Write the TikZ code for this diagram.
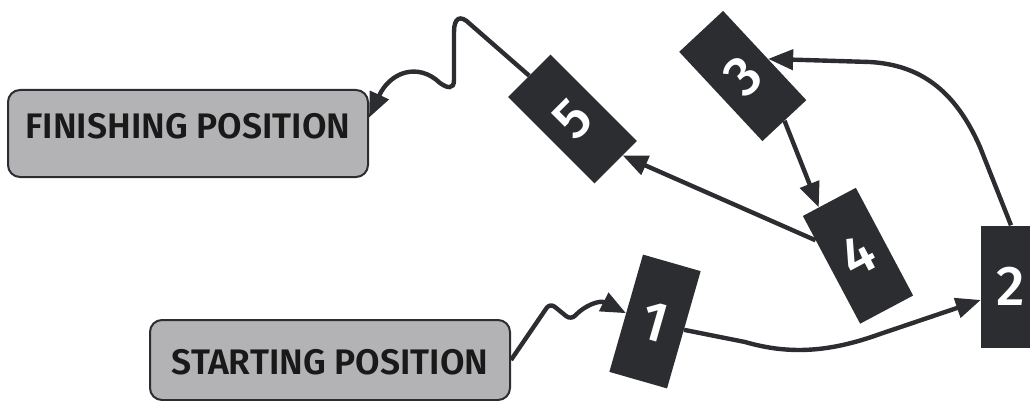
\documentclass[tikz,border=0pt]{standalone}
\usepackage{fontspec}
\setmainfont{Fira Sans}
\newfontfamily\labelfont{Fira Sans SemiBold}
\newfontfamily\digitfont{Fira Sans Medium}
\usetikzlibrary{arrows.meta}
\definecolor{dk}{HTML}{2B2D31}
\definecolor{gb}{HTML}{B3B3B5}
\begin{document}
\begin{tikzpicture}[x=1pt,y=-1pt,
  posbox/.style={draw=dk, line width=2pt, fill=gb, rounded corners=12pt,
    minimum width=360pt, minimum height=87pt, inner sep=0pt,
    font=\labelfont\fontsize{35.5}{40}\selectfont, text=black!90,
    text height=23pt, text depth=12pt},
  stepbox/.style={fill=dk, minimum width=60pt, minimum height=122pt, inner sep=0pt,
    text=white, font=\digitfont\fontsize{56}{64}\selectfont},
  conn/.style={draw=dk, line width=4.4pt, -{Triangle[length=25pt,width=20pt]}}]
\useasboundingbox (0,0) rectangle (1030,401);
\node[posbox] (fin) at (188,133.5) {FINISHING POSITION};
\node[posbox, minimum height=80pt, text height=30pt, text depth=2pt] (start) at (330,360) {STARTING POSITION};
\node[stepbox, rotate=-16] (n1) at (655,321.5) {1};
\node[stepbox] (n2) at (1011,286.5) {2};
\node[stepbox, rotate=43] (n3) at (742.75,76) {3};
\node[stepbox, rotate=28] (n4) at (858,255.75) {4};
\node[stepbox, rotate=45] (n5) at (572.5,119) {5};
\draw[conn, rounded corners=6pt] (start.east) -- (550,303) -- (571,320) .. controls (585,305) and (600,300) .. (n1.west);
\draw[conn] (n1.east) -- (745,342) .. controls (790,355) and (830,352) .. (880,334) -- (n2.204);
\draw[conn] (n2.north) -- (980,147) .. controls (955,90) and (920,65) .. (870,62) -- (n3.-9);
\draw[conn] (n3.south) -- (n4.101);
\draw[conn] (n4.132) -- (n5.279);
\draw[conn] (n5.north) -- (470,24) .. controls (460,14) and (454,18) .. (454,32) -- (454,80) .. controls (454,90) and (447,88) .. (440,83) .. controls (418,62) and (390,72) .. (fin.5);
\end{tikzpicture}
\end{document}
